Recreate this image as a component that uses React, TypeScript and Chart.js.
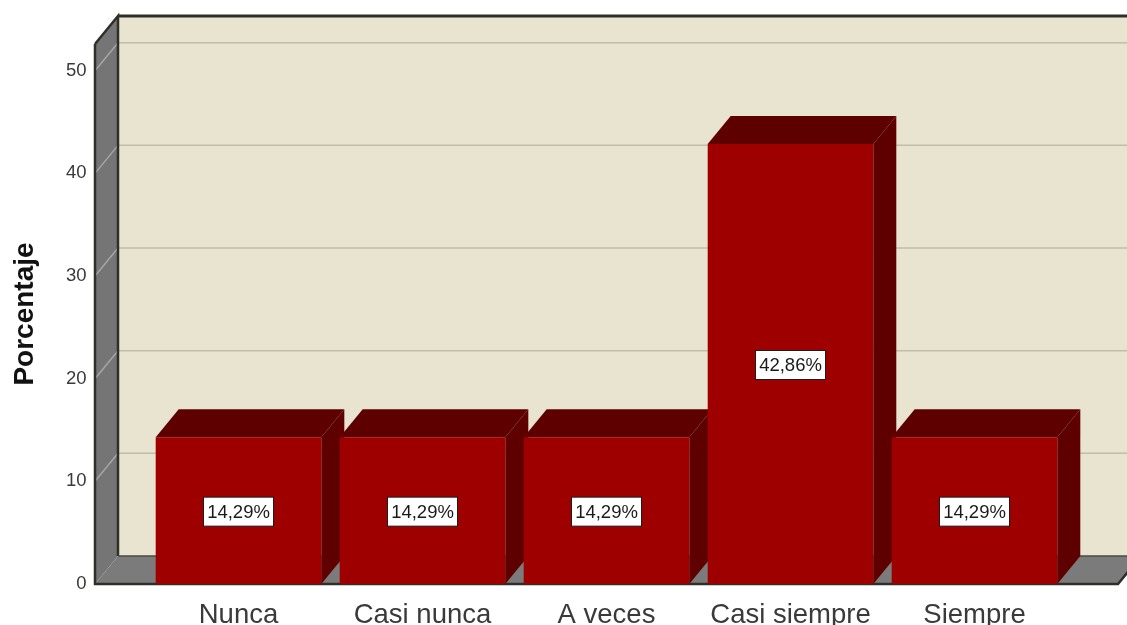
import React, { useEffect, useRef } from "react";
import { Chart, registerables } from "chart.js";

Chart.register(...registerables);

const categories = ["Nunca", "Casi nunca", "A veces", "Casi siempre", "Siempre"];
const percentages = [14.29, 14.29, 14.29, 42.86, 14.29];
const tickValues = [0, 10, 20, 30, 40, 50];

const WIDTH = 1127;
const HEIGHT = 625;
const DEPTH_X = 23;
const DEPTH_Y = 28;
const FLOOR_MARGIN = 51.5;

const WALL = "#e9e4d0";
const WALL_GRID = "#c2bcab";
const SIDE = "#757575";
const SIDE_GRID = "#a6a6a6";
const FLOOR = "#7b7b7b";
const EDGE = "#2f2f2a";
const BAR_FRONT = "#9e0000";
const BAR_SHADE = "#5e0000";
const FONT = "'Liberation Sans', Arial, sans-serif";

type Pt = [number, number];

function poly(ctx: CanvasRenderingContext2D, pts: Pt[], fill: string) {
  ctx.beginPath();
  pts.forEach(([x, y], i) => (i ? ctx.lineTo(x, y) : ctx.moveTo(x, y)));
  ctx.closePath();
  ctx.fillStyle = fill;
  ctx.fill();
}

function line(ctx: CanvasRenderingContext2D, pts: Pt[], color: string, width: number) {
  ctx.beginPath();
  pts.forEach(([x, y], i) => (i ? ctx.lineTo(x, y) : ctx.moveTo(x, y)));
  ctx.strokeStyle = color;
  ctx.lineWidth = width;
  ctx.stroke();
}

// Back wall, side wall and floor of the 3D box, positioned from the scales.
const boxPlugin = {
  id: "box",
  beforeDatasetsDraw(chart: any) {
    const { ctx, chartArea, scales } = chart;
    const left = chartArea.left - FLOOR_MARGIN;
    const right = chartArea.right + FLOOR_MARGIN;
    const { top, bottom } = chartArea;
    const backLeft = left + DEPTH_X;
    const backRight = right + DEPTH_X;
    const backTop = top - DEPTH_Y;
    const backBottom = bottom - DEPTH_Y;

    ctx.save();
    poly(ctx, [[backLeft, backTop], [backRight, backTop], [backRight, backBottom], [backLeft, backBottom]], WALL);
    poly(ctx, [[left, top], [backLeft, backTop], [backLeft, backBottom], [left, bottom]], SIDE);
    poly(ctx, [[left, bottom], [backLeft, backBottom], [backRight, backBottom], [right, bottom]], FLOOR);

    tickValues.slice(1).forEach((v) => {
      const y = scales.y.getPixelForValue(v);
      line(ctx, [[left, y], [backLeft, y - DEPTH_Y]], SIDE_GRID, 1.5);
      line(ctx, [[backLeft, y - DEPTH_Y], [backRight, y - DEPTH_Y]], WALL_GRID, 1.5);
    });

    line(ctx, [[backLeft, backTop], [backRight, backTop]], EDGE, 3);
    line(ctx, [[left, top], [backLeft, backTop], [backLeft, backBottom]], EDGE, 2.5);
    line(ctx, [[left, top], [left, bottom], [right, bottom], [backRight, backBottom]], EDGE, 2.5);
    line(ctx, [[backLeft, backBottom], [backRight, backBottom]], "#4a4a46", 1.5);

    // Top and right faces of each bar, left to right so neighbours overlap correctly.
    chart.getDatasetMeta(0).data.forEach((bar: any) => {
      const l = bar.x - bar.width / 2;
      const r = bar.x + bar.width / 2;
      poly(ctx, [[l, bar.y], [l + DEPTH_X, bar.y - DEPTH_Y], [r + DEPTH_X, bar.y - DEPTH_Y], [r, bar.y]], BAR_SHADE);
      poly(ctx, [[r, bar.y], [r + DEPTH_X, bar.y - DEPTH_Y], [r + DEPTH_X, bar.base - DEPTH_Y], [r, bar.base]], BAR_SHADE);
    });
    ctx.restore();
  },
  // White value boxes in the middle of each bar's front face.
  afterDatasetsDraw(chart: any) {
    const { ctx } = chart;
    ctx.save();
    ctx.font = `18.5px ${FONT}`;
    ctx.textAlign = "center";
    ctx.textBaseline = "middle";
    chart.getDatasetMeta(0).data.forEach((bar: any, i: number) => {
      const cy = (bar.y + bar.base) / 2 + 1;
      const w = 70;
      const h = 29;
      ctx.fillStyle = "#ffffff";
      ctx.fillRect(bar.x - w / 2, cy - h / 2, w, h);
      ctx.strokeStyle = "#1c1c1c";
      ctx.lineWidth = 1;
      ctx.strokeRect(bar.x - w / 2, cy - h / 2, w, h);
      ctx.fillStyle = "#1a1a1a";
      ctx.fillText(`${percentages[i].toFixed(2).replace(".", ",")}%`, bar.x, cy + 1);
    });
    ctx.restore();
  },
};

export default function App() {
  const ref = useRef<HTMLCanvasElement>(null);

  useEffect(() => {
    const chart = new Chart(ref.current!, {
      type: "bar",
      data: {
        labels: categories,
        datasets: [
          {
            label: "Porcentaje",
            data: percentages,
            backgroundColor: BAR_FRONT,
            borderWidth: 0,
            categoryPercentage: 1,
            barPercentage: 0.9,
          },
        ],
      },
      options: {
        responsive: false,
        animation: false,
        layout: {
          autoPadding: false,
          padding: { left: 0, top: 44, right: 60.5, bottom: 0 },
        },
        plugins: { legend: { display: false }, tooltip: { enabled: false } },
        scales: {
          x: {
            // The axis box is fixed so the plot keeps its place whatever the label sizes are.
            afterFit: (s: any) => {
              s.height = 41;
              s.paddingLeft = 0;
              s.paddingRight = 0;
            },
            grid: { display: false, drawTicks: false },
            border: { display: false },
            ticks: {
              autoSkip: false,
              maxRotation: 0,
              padding: 15,
              color: "#3a3a3a",
              font: { family: FONT, size: 27.5 },
            },
          },
          y: {
            min: 0,
            max: 52.6,
            afterFit: (s: any) => {
              s.width = 146.5;
              s.paddingTop = 0;
              s.paddingBottom = 0;
            },
            grid: { display: false, drawTicks: false },
            border: { display: false },
            title: {
              display: true,
              text: "Porcentaje",
              color: "#111111",
              padding: { top: 8, bottom: 0 },
              font: { family: FONT, size: 28, weight: "bold" },
            },
            ticks: {
              stepSize: 10,
              includeBounds: false,
              padding: 60,
              color: "#3a3a3a",
              font: { family: FONT, size: 18.5 },
            },
          },
        },
      },
      plugins: [boxPlugin],
    } as any);
    return () => chart.destroy();
  }, []);

  return (
    <div style={{ position: "absolute", left: 0, top: 0, width: WIDTH, height: HEIGHT, background: "#ffffff" }}>
      <canvas ref={ref} width={WIDTH} height={HEIGHT} style={{ display: "block" }} />
    </div>
  );
}
